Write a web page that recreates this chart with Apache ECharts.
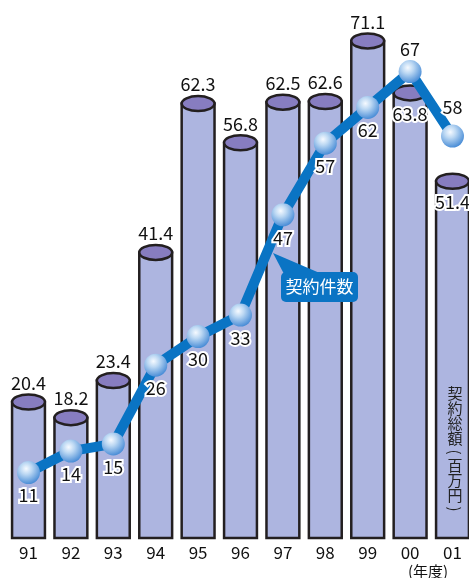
<!DOCTYPE html>
<html><head><meta charset="utf-8">
<script src="https://cdn.jsdelivr.net/npm/echarts@6/dist/echarts.min.js"></script>
<style>html,body{margin:0;padding:0;background:#fff}#c{width:469px;height:578px}</style>
</head><body><div id="c"></div>
<script>
// ---- data ----
const years = ['91','92','93','94','95','96','97','98','99','00','01'];
const totalAmount = [20.4,18.2,23.4,41.4,62.3,56.8,62.5,62.6,71.1,63.8,51.4]; // 契約総額(百万円)
const contractCount = [11,14,15,26,30,33,47,57,62,67,58];                    // 契約件数
const amountLabelInside = [false,false,false,false,false,false,false,false,false,true,true];
const countLabelAbove = [false,false,false,false,false,false,false,false,false,true,true];
const amountAxisTitle = ['契','約','総','額','(','百','万','円',')'];

const FONT = '"Noto Sans CJK JP","Noto Sans",sans-serif';
const chart = echarts.init(document.getElementById('c'), null, {renderer:'canvas'});

const ballColor = {type:'radial', x:0.4, y:0.33, r:0.72, colorStops:[
  {offset:0, color:'#f6faff'}, {offset:0.35, color:'#bcd8f3'}, {offset:1, color:'#3f86d4'}]};

// vertical title, one glyph per element (parentheses rotated)
const titleEls = [];
let ty = 386;
amountAxisTitle.forEach(ch=>{
  const paren = (ch==='(' || ch===')');
  const h = paren ? 12 : 15;
  titleEls.push({type:'text', x:455, y:ty + h/2, rotation: paren ? -Math.PI/2 : 0,
    style:{text:ch, fill:'#222', font:'15px '+FONT, align:'center', verticalAlign:'middle'}, z:11});
  ty += h;
});

chart.setOption({
  animation:false,
  backgroundColor:'#fff',
  grid:{left:7.3, width:466.4, top:0, height:538, outerBoundsMode:'none', containLabel:false},
  xAxis:{type:'category', data:years, boundaryGap:true,
    axisLine:{show:false}, axisTick:{show:false}, splitLine:{show:false},
    axisLabel:{fontSize:17, lineHeight:17, color:'#111', fontFamily:FONT, margin:6, interval:0, hideOverlap:false}},
  yAxis:[
    {type:'value', min:1.3, max:76.85, show:false, splitLine:{show:false}},
    {type:'value', min:1.86, max:77.0, show:false, splitLine:{show:false}}
  ],
  series:[
    {type:'custom', yAxisIndex:0, z:1,
      data: totalAmount.map((v,i)=>[i,v]),
      renderItem:(params, api)=>{
        const i = api.value(0), v = api.value(1);
        const top = api.coord([i, v]);
        const cs = params.coordSys;
        const bottom = cs.y + cs.height;
        const w = api.size([1,0])[0]*0.775;
        const rx = w/2, ry = 7.5, x = top[0];
        const inside = amountLabelInside[params.dataIndex];
        return {type:'group', children:[
          {type:'rect', shape:{x:x-rx, y:top[1], width:w, height:bottom-top[1]},
            style:{fill:'#adb5e0', stroke:'#231f20', lineWidth:2.5}},
          {type:'ellipse', shape:{cx:x, cy:top[1], rx:rx, ry:ry},
            style:{fill:'#877dc0', stroke:'#231f20', lineWidth:2.5}},
          {type:'text', x:x, y: inside ? top[1]+21 : top[1]-19, z2:5,
            style:{text:String(v), fill:'#111', font:'18px '+FONT, align:'center', verticalAlign:'middle',
              stroke: inside ? '#fff' : 'transparent', lineWidth: inside ? 4 : 0, strokeFirst:true}}
        ]};
      }
    },
    {type:'line', yAxisIndex:1, z:3,
      data: contractCount.map((v,i)=>({value:v, label:{position: countLabelAbove[i] ? 'top' : 'bottom',
        distance: countLabelAbove[i] ? (i===10 ? 8 : 1.5) : 2.5}})),
      lineStyle:{width:10, color:'#0a74c4'},
      symbol:'circle', symbolSize:23,
      itemStyle:{color:ballColor, borderWidth:0},
      label:{show:true, fontSize:18, color:'#111', fontFamily:FONT, textBorderColor:'#fff', textBorderWidth:4}
    }
  ],
  graphic:[
    {type:'polygon', shape:{points:[[273,253],[284,274],[322,274]]}, style:{fill:'#0a74c4'}, z:10},
    {type:'rect', shape:{x:281, y:272, width:77, height:30, r:5}, style:{fill:'#0a74c4'}, z:10},
    {type:'text', x:319.5, y:287, style:{text:'契約件数', fill:'#fff', font:'17px '+FONT, align:'center', verticalAlign:'middle'}, z:11},
    {type:'text', x:428, y:571, style:{text:'(年度)', fill:'#111', font:'15px '+FONT, align:'center', verticalAlign:'middle'}, z:11}
  ].concat(titleEls)
});
</script></body></html>
